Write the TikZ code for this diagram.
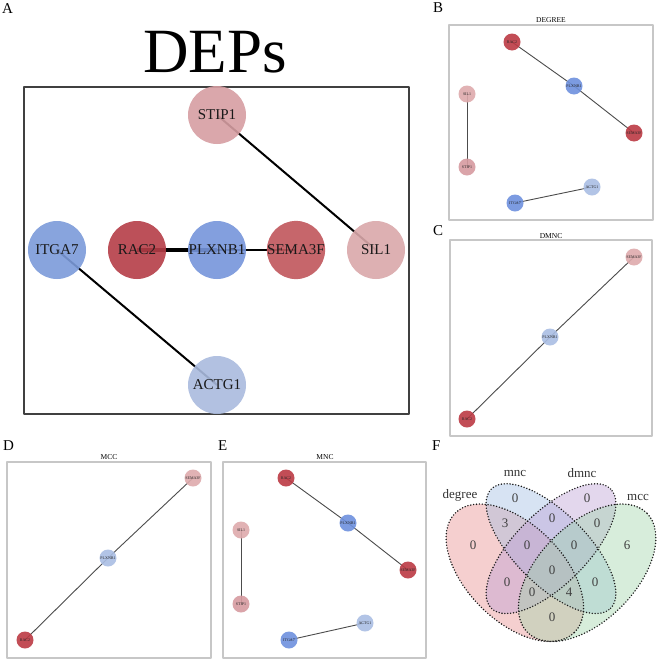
\documentclass[tikz,border=0pt]{standalone}
\usepackage{fontspec}
\setmainfont{Liberation Serif}
\usetikzlibrary{backgrounds}
% node colours
\definecolor{nstip}{RGB}{214,158,162}
\definecolor{nsil}{RGB}{218,168,170}
\definecolor{nitga}{RGB}{124,155,218}
\definecolor{nrac}{RGB}{181,62,72}
\definecolor{nplx}{RGB}{118,149,219}
\definecolor{nsema}{RGB}{192,86,92}
\definecolor{nactg}{RGB}{170,187,222}
\definecolor{rdark}{RGB}{188,58,68}
\definecolor{bmid}{RGB}{110,145,222}
\definecolor{plight}{RGB}{222,170,172}
\definecolor{pmid}{RGB}{214,155,160}
\definecolor{blight}{RGB}{170,190,228}
% venn colours
\definecolor{vdeg}{RGB}{230,137,137}
\definecolor{vmnc}{RGB}{155,187,225}
\definecolor{vdmnc}{RGB}{187,155,212}
\definecolor{vmcc}{RGB}{155,212,167}
\begin{document}
\begin{tikzpicture}[x=1pt, y=1pt, line join=round, line cap=round,
    bignode/.style={circle, inner sep=0pt, minimum size=58pt, fill opacity=.9, text opacity=1, text=black!90, font=\fontsize{15}{15}\selectfont},
    smallnode/.style={circle, inner sep=0pt, minimum size=17pt, fill opacity=.9, text opacity=1, text=black!85, font=\fontsize{4}{4}\selectfont},
    panellabel/.style={anchor=west, inner sep=0pt, font=\fontsize{15}{15}\selectfont},
    smalltitle/.style={inner sep=0pt, font=\fontsize{7.5}{7.5}\selectfont},
    smallframe/.style={draw=black!22, line width=1.2pt},
    smalledge/.style={draw=black!70, line width=0.9pt},
    bigedge/.style={draw=black, line width=2pt},
    vennline/.style={draw=black!90, line width=1.6pt, dash pattern=on 0pt off 2.9pt},
    vennfill/.style={fill opacity=.4},
    venntext/.style={inner sep=0pt, text=black!75, font=\fontsize{13}{13}\selectfont}]
\useasboundingbox (0,0) rectangle (658,-659);
\begin{pgfonlayer}{background}
\fill[white] (0,0) rectangle (658,-659);
\end{pgfonlayer}
% panel labels
\foreach \l/\x/\y in {A/2/9, B/433/8, C/433/231, D/3/446, E/218/446, F/432/446}
  \node[panellabel] (lab-\l) at (\x,-\y) {\l};
%% A
\node[inner sep=0pt, font=\fontsize{63}{63}\selectfont] (A-title) at (215,-52) {DEPs};
\draw[draw=black!75, line width=1.3pt] (24,-87) rectangle (409,-414);
\foreach \n/\x/\y/\c in {STIP1/217/115/nstip, ITGA7/57/250/nitga, RAC2/137/250/nrac,
    PLXNB1/217/250/nplx, SEMA3F/296/250/nsema, SIL1/376/250/nsil, ACTG1/217/385/nactg}
  \node[bignode, fill=\c] (A-\n) at (\x,-\y) {\n};
\begin{scope}[on background layer]
\draw[bigedge] (A-STIP1.center) -- (A-SIL1.center);
\draw[bigedge] (A-ITGA7.center) -- (A-ACTG1.center);
\draw[bigedge, line width=3.2pt] (A-RAC2.center) -- (A-PLXNB1.center);
\draw[bigedge] (A-PLXNB1.center) -- (A-SEMA3F.center);
\end{scope}
%% B and E
\draw[smallframe] (449,-25) rectangle (653,-220);
\node[smalltitle] (B-title) at (551,-20) {DEGREE};
\draw[smallframe] (223,-462) rectangle (426,-658);
\node[smalltitle] (E-title) at (325,-457) {MNC};
\foreach \p/\n/\x/\y/\c in {B/RAC2/512/42/rdark, B/PLXNB1/574/86/bmid, B/SEMA3F/634/133/rdark,
    B/SIL1/467/94/plight, B/STIP1/467/167/pmid, B/ACTG1/592/187/blight, B/ITGA7/515/203/bmid,
    E/RAC2/286/478/rdark, E/PLXNB1/348/523/bmid, E/SEMA3F/408/570/rdark,
    E/SIL1/241/530/plight, E/STIP1/241/604/pmid, E/ACTG1/365/623/blight, E/ITGA7/289/640/bmid}
  \node[smallnode, fill=\c] (\p-\n) at (\x,-\y) {\n};
%% C and D
\draw[smallframe] (450,-240) rectangle (652,-436);
\node[smalltitle] (C-title) at (551,-236) {DMNC};
\draw[smallframe] (7,-462) rectangle (211,-658);
\node[smalltitle] (D-title) at (109,-457) {MCC};
\foreach \p/\n/\x/\y/\c in {C/SEMA3F/634/257/plight, C/PLXNB1/550/337/blight, C/RAC2/467/419/rdark,
    D/SEMA3F/193/478/plight, D/PLXNB1/108/558/blight, D/RAC2/25/640/rdark}
  \node[smallnode, fill=\c] (\p-\n) at (\x,-\y) {\n};
\begin{scope}[on background layer]
\foreach \p in {B,E}{
  \draw[smalledge] (\p-RAC2.center) -- (\p-PLXNB1.center) -- (\p-SEMA3F.center);
  \draw[smalledge] (\p-SIL1.center) -- (\p-STIP1.center);
  \draw[smalledge] (\p-ITGA7.center) -- (\p-ACTG1.center);
}
\foreach \p in {C,D}
  \draw[smalledge] (\p-RAC2.center) -- (\p-PLXNB1.center) -- (\p-SEMA3F.center);
\end{scope}
%% F venn
\begin{scope}[shift={(430.5,-686)}, scale=241]
\fill[vennfill, fill=vdeg, rotate around={-45:(0.35,0.47)}] (0.35,0.47) ellipse [x radius=0.35, y radius=0.2];
\fill[vennfill, fill=vmnc, rotate around={-45:(0.5,0.57)}] (0.5,0.57) ellipse [x radius=0.35, y radius=0.15];
\fill[vennfill, fill=vdmnc, rotate around={45:(0.5,0.57)}] (0.5,0.57) ellipse [x radius=0.35, y radius=0.15];
\fill[vennfill, fill=vmcc, rotate around={45:(0.65,0.47)}] (0.65,0.47) ellipse [x radius=0.35, y radius=0.2];
\draw[vennline, rotate around={-45:(0.35,0.47)}] (0.35,0.47) ellipse [x radius=0.35, y radius=0.2];
\draw[vennline, rotate around={-45:(0.5,0.57)}] (0.5,0.57) ellipse [x radius=0.35, y radius=0.15];
\draw[vennline, rotate around={45:(0.5,0.57)}] (0.5,0.57) ellipse [x radius=0.35, y radius=0.15];
\draw[vennline, rotate around={45:(0.65,0.47)}] (0.65,0.47) ellipse [x radius=0.35, y radius=0.2];
\end{scope}
\foreach \n/\x/\y in {degree/460/495, mnc/515/473, dmnc/582/473, mcc/638/497}
  \node[venntext, text=black!80] (F-\n) at (\x,-\y) {\n};
\foreach \i/\x/\y/\t in {1/473/545/0, 2/515/498/0, 3/587/498/0, 4/627/545/6,
    5/505/523/3, 6/552/518/0, 7/597/523/0, 8/527/545/0, 9/574/545/0,
    10/552/570/0, 11/507/582/0, 12/532/592/0, 13/569/592/4, 14/595/582/0, 15/552/617/0}
  \node[venntext] (F-n\i) at (\x,-\y) {\t};
\end{tikzpicture}
\end{document}
